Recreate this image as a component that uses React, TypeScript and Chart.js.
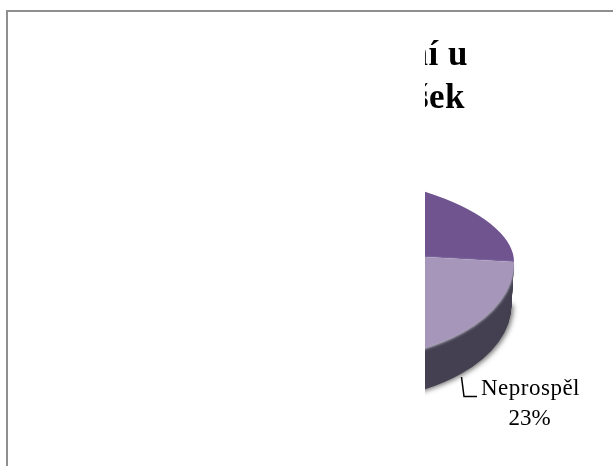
import React, { useEffect, useRef } from "react";
import { Chart, registerables } from "chart.js";

Chart.register(...registerables);

const categories = ["Neprospěl", "Prospěl"];
const values = [23, 77];
const sliceColors = ["#a596ba", "#6f5490"];
const wallColor = "#454152";
const titleLines = ["ní u", "šek"];
const SERIF = '"Liberation Serif", "DejaVu Serif", serif';

const pie3d = {
  id: "pie3d",
  beforeDatasetsDraw(chart: any) {
    const ctx = chart.ctx;
    const arcs = chart.getDatasetMeta(0).data;
    const lower = arcs[0];
    const upper = arcs[1];
    const tilt = 0.056;
    const lowerScale = 110 / 204;
    const upperScale = 79 / 204;
    const depth = 42;
    const place = (arc: any, scaleY: number, dy: number, scaleX: number) => {
      ctx.translate(arc.x, arc.y + dy);
      ctx.transform(scaleX, tilt, 0, scaleY, 0, 0);
      ctx.translate(-arc.x, -arc.y);
    };
    ctx.save();
    ctx.beginPath();
    ctx.rect(425, 0, chart.width - 425, chart.height);
    ctx.clip();

    const original = lower.options;
    lower.options = { ...original, backgroundColor: wallColor, borderColor: wallColor };
    ctx.save();
    ctx.shadowColor = "rgba(60,60,60,0.7)";
    ctx.shadowBlur = 5;
    ctx.shadowOffsetX = 2;
    ctx.shadowOffsetY = 1;
    ctx.save();
    place(lower, lowerScale, depth, 1 - 0.012);
    lower.draw(ctx);
    ctx.restore();
    ctx.restore();
    for (let d = depth - 1; d > 0; d--) {
      ctx.save();
      place(lower, lowerScale, d, 1 - (0.012 * d) / depth);
      lower.draw(ctx);
      ctx.restore();
    }
    lower.options = original;

    ctx.save();
    place(upper, upperScale, 0, 1);
    upper.draw(ctx);
    ctx.restore();

    ctx.save();
    ctx.shadowColor = "rgba(225,220,235,0.9)";
    ctx.shadowBlur = 3;
    ctx.shadowOffsetY = 1;
    place(lower, lowerScale, 0, 1);
    lower.draw(ctx);
    ctx.restore();

    ctx.restore();
    return false;
  },
  afterDraw(chart: any) {
    const ctx = chart.ctx;
    ctx.save();
    ctx.beginPath();
    ctx.rect(425, 0, chart.width - 425, chart.height);
    ctx.clip();
    ctx.fillStyle = "#000";
    ctx.textAlign = "right";
    ctx.textBaseline = "alphabetic";
    ctx.font = `bold 35px ${SERIF}`;
    ctx.letterSpacing = "0.5px";
    ctx.fillText(titleLines[0], 468, 65);
    ctx.fillText(titleLines[1], 465, 108);
    ctx.restore();

    ctx.save();
    ctx.strokeStyle = "#000";
    ctx.lineWidth = 1.5;
    ctx.beginPath();
    ctx.moveTo(461.5, 377);
    ctx.lineTo(464, 396.5);
    ctx.lineTo(477, 396.5);
    ctx.stroke();
    ctx.fillStyle = "#000";
    ctx.textAlign = "center";
    ctx.font = `23px ${SERIF}`;
    ctx.letterSpacing = "0.5px";
    ctx.fillText(categories[0], 530.5, 395);
    ctx.letterSpacing = "0px";
    ctx.fillText(`${values[0]}%`, 529.5, 425);
    ctx.restore();
  },
};

export default function App() {
  const ref = useRef<HTMLCanvasElement>(null);
  useEffect(() => {
    const chart = new Chart(ref.current!, {
      type: "pie",
      data: {
        labels: categories,
        datasets: [{ data: values, backgroundColor: sliceColors, borderWidth: 0 }],
      },
      options: {
        responsive: false,
        animation: false,
        devicePixelRatio: 1,
        rotation: 90,
        layout: { padding: { left: 106, right: 99, top: 46.5, bottom: 11.5 } },
        plugins: { legend: { display: false }, tooltip: { enabled: false }, title: { display: false } },
      },
      plugins: [pie3d],
    } as any);
    return () => chart.destroy();
  }, []);
  return (
    <div style={{ position: "absolute", left: 0, top: 0, width: 613, height: 466, overflow: "hidden", background: "#fff" }}>
      <canvas ref={ref} width={613} height={466} style={{ position: "absolute", left: 0, top: 0 }} />
      <div style={{ position: "absolute", left: 6, top: 10, width: 640, height: 500, borderLeft: "2px solid #8f8f8f", borderTop: "2px solid #8f8f8f" }} />
    </div>
  );
}
